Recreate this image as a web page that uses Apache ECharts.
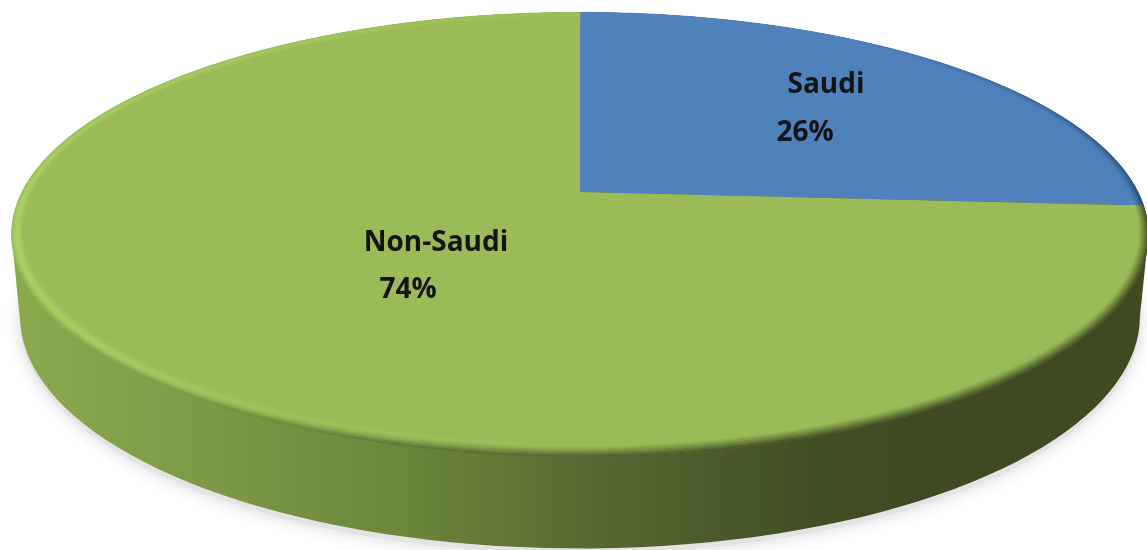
<!DOCTYPE html>
<html><head><meta charset="utf-8">
<style>html,body{margin:0;padding:0;background:#fff}#c{width:1147px;height:550px}</style>
<script src="https://cdn.jsdelivr.net/npm/echarts@6/dist/echarts.min.js"></script>
</head><body><div id="c"></div>
<script>
const categories = ['Saudi', 'Non-Saudi'];
const values = [26, 74];
const sliceColors = ['#4F81BD', '#9BBB59'];
const sliceDark = ['#24456e', '#3f4a22'];

const labelSpots = [[[826, 85], [805, 133]], [[436, 243], [408, 290]]];
const view = {cx: 580, cy: 192, a: 558, b: 214, k: 0.191, wallDrop: 80, wallScale: 0.985, wallStretch: 1.045};
const total = values.reduce((s, v) => s + v, 0);

function project(thetaDeg, radU, radV, scale, drop, stretch) {
  const t = thetaDeg * Math.PI / 180, u = Math.sin(t) * radU, v = Math.cos(t) * radV;
  const w = 1 + view.k * v;
  return [view.cx + scale * view.a * u / w, view.cy + drop - (stretch || 1) * view.b * v / w];
}
function hex(c) { return [1, 3, 5].map(i => parseInt(c.substr(i, 2), 16)); }
function mix(a, b, t) { return a.map((x, i) => x + (b[i] - x) * t); }
function rgb(c) { return 'rgb(' + c.map(Math.round).join(',') + ')'; }
function ramp(x, pts) {
  for (let i = 1; i < pts.length; i++) if (x <= pts[i][0]) {
    const p = pts[i - 1], q = pts[i];
    return p[1] + (q[1] - p[1]) * (x - p[0]) / (q[0] - p[0]);
  }
  return pts[pts.length - 1][1];
}
const lightAt = th => ramp(th, [[0, .05], [170, 0], [190, .45], [225, 1], [255, .8], [285, .55], [325, .35], [360, .05]]);
const darkAt = th => ramp(th, [[0, 0], [35, .05], [70, .6], [95, 1], [165, 1], [190, .75], [235, .2], [265, .02], [360, 0]]);

function renderBody(params, api) {
  const under = [], wall = [];
  const turn = Math.acos(-view.k) * 180 / Math.PI;
  for (let th = 0; th <= 360; th += 2) under.push(project(th, 1, 1, view.wallScale, view.wallDrop + 5, view.wallStretch));
  for (let th = turn; th <= 360 - turn; th += 2) wall.push(project(th, 1, 1, view.wallScale, view.wallDrop, view.wallStretch));
  for (let th = 360 - turn; th <= 360 + turn; th += 2) wall.push(project(th, 1, 1, 1, 0));
  return {type: 'group', children: [
    {type: 'polygon', shape: {points: under}, style: {fill: '#e3e3e3', shadowBlur: 16, shadowColor: 'rgba(0,0,0,.16)'}},
    {type: 'polygon', shape: {points: wall}, style: {fill: new echarts.graphic.LinearGradient(0, 0, 1, 0, [
      {offset: 0, color: '#8BAA4D'}, {offset: .18, color: '#7D9846'}, {offset: .36, color: '#6A8439'},
      {offset: .5, color: '#586B33'}, {offset: .7, color: '#414F24'}, {offset: .8, color: '#3F4A22'}, {offset: 1, color: '#3F4A22'}
    ])}}
  ]};
}

function renderSlice(params, api) {
  const i = params.dataIndex;
  let before = 0;
  for (let j = 0; j < i; j++) before += values[j];
  const start = before / total * 360, end = (before + api.value(0)) / total * 360;
  const base = hex(sliceColors[i]), dark = hex(sliceDark[i]), light = [178, 222, 108];
  const pts = [[view.cx, view.cy]];
  for (let th = start; th < end; th += 1) pts.push(project(th, 1, 1, 1, 0));
  pts.push(project(end, 1, 1, 1, 0));
  const fill = sliceColors[i];
  const kids = [{type: 'polygon', shape: {points: pts}, style: {fill}}];
  const rings = 14, step = 2;
  const bandU = .024, bandV = .05;
  for (let th = start; th < end; th += step) {
    const t2 = Math.min(th + step, end), mid = (th + t2) / 2;
    const L = lightAt(mid), D = darkAt(mid);
    for (let r = 0; r < rings; r++) {
      const s0 = r / rings, s1 = (r + 1) / rings, sm = (s0 + s1) / 2;
      const h = Math.exp(-Math.pow((sm - .38) / .3, 2));
      const d = Math.pow(Math.max(0, 1 - sm / .7), 1.1);
      let c = mix(base, light, L * h);
      c = mix(c, dark, D * d);
      const U0 = 1 - bandU * s0, V0 = 1 - bandV * s0, U1 = 1 - bandU * s1, V1 = 1 - bandV * s1;
      const col = rgb(c);
      kids.push({type: 'polygon', shape: {points: [
        project(th, U0, V0, 1, 0), project(t2, U0, V0, 1, 0), project(t2, U1, V1, 1, 0), project(th, U1, V1, 1, 0)
      ]}, style: {fill: col, stroke: col, lineWidth: .6}});
    }
  }
  const pct = Math.round(api.value(0) / total * 100) + '%';
  const font = {fontFamily: '"Open Sans"', fontWeight: 700, fontSize: 28, fill: '#141414', align: 'center', verticalAlign: 'middle'};
  kids.push({type: 'text', z2: 10, x: labelSpots[i][0][0], y: labelSpots[i][0][1], style: Object.assign({text: categories[i]}, font)});
  kids.push({type: 'text', z2: 10, x: labelSpots[i][1][0], y: labelSpots[i][1][1], style: Object.assign({text: pct}, font)});
  return {type: 'group', children: kids};
}

const chart = echarts.init(document.getElementById('c'), null, {renderer: 'canvas'});
chart.setOption({
  animation: false,
  backgroundColor: '#fff',
  series: [
    {type: 'custom', name: 'Body', coordinateSystem: 'none', silent: true, renderItem: renderBody, data: [[total]], z: 1},
    {type: 'custom', name: 'Share', coordinateSystem: 'none', silent: true, renderItem: renderSlice,
     data: values.map((v, i) => ({name: categories[i], value: [v]})), z: 2}
  ]
});
</script></body></html>
